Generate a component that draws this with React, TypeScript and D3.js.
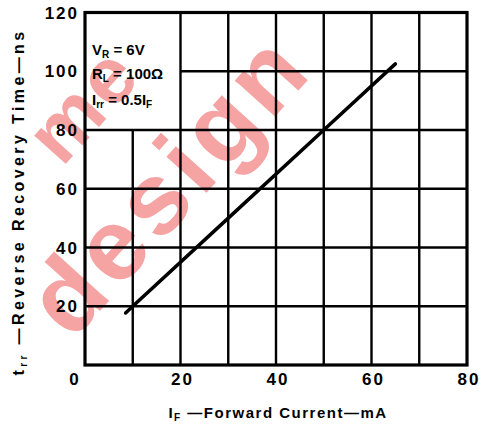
import React from "react";
import * as d3 from "d3";

// forward current (mA) vs reverse recovery time (ns)
const currentMa = [8.5, 10, 30, 50, 65];
const recoveryNs = [17.7, 20, 50, 80, 102.5];

const xTicks = [0, 20, 40, 60, 80];
const yTicks = [20, 40, 60, 80, 100, 120];
const xGrid = [10, 20, 30, 40, 50, 60, 70];
const yGrid = [20, 40, 60, 80, 100];

const width = 481;
const height = 427;
const margin = { top: 12.5, right: 14, bottom: 62, left: 85 };

const font = "'Liberation Sans', Arial, sans-serif";

const App: React.FC = () => {
  const x = d3
    .scaleLinear()
    .domain([0, 80])
    .range([margin.left, width - margin.right]);
  const y = d3
    .scaleLinear()
    .domain([0, 120])
    .range([height - margin.bottom, margin.top]);

  const points = currentMa.map((c, i) => [c, recoveryNs[i]] as [number, number]);
  const line = d3
    .line<[number, number]>()
    .x((d) => x(d[0]))
    .y((d) => y(d[1]));

  return (
    <svg
      width={width}
      height={height}
      style={{ position: "absolute", left: 0, top: 0, background: "#fff" }}
    >
      {/* watermark */}
      <g fill="#f5a3a3" fontFamily={font} fontWeight="bold">
        <text transform="translate(72,342) rotate(-48)" fontSize={102} letterSpacing={6}>
          design
        </text>
        <text transform="translate(62,168) rotate(-48)" fontSize={80} letterSpacing={4}>
          me
        </text>
      </g>

      {/* grid */}
      <g stroke="#000" strokeWidth={2.4}>
        {xGrid.map((v) => (
          <line
            key={"vx" + v}
            x1={x(v)}
            x2={x(v)}
            y1={v === 10 ? y(80) : y(120)}
            y2={y(0)}
          />
        ))}
        {yGrid.map((v) => (
          <line
            key={"hy" + v}
            x1={v === 100 ? x(20) : x(0)}
            x2={x(80)}
            y1={y(v)}
            y2={y(v)}
          />
        ))}
      </g>
      <rect
        x={x(0)}
        y={y(120)}
        width={x(80) - x(0)}
        height={y(0) - y(120)}
        fill="none"
        stroke="#000"
        strokeWidth={3.2}
      />

      {/* curve */}
      <path
        d={line(points) ?? ""}
        fill="none"
        stroke="#000"
        strokeWidth={3.5}
        strokeLinecap="round"
      />

      {/* tick labels */}
      <g fontFamily={font} fontWeight="bold" fontSize={17} letterSpacing={2} fill="#000">
        {yTicks.map((v) => (
          <text key={"yt" + v} x={x(0) - 6} y={y(v) + 6} textAnchor="end">
            {v}
          </text>
        ))}
        {xTicks.map((v) => (
          <text
            key={"xt" + v}
            x={v === 0 ? x(v) - 10 : x(v) + 2}
            y={385}
            textAnchor="middle"
          >
            {v}
          </text>
        ))}
      </g>

      {/* conditions */}
      <g fontFamily={font} fontWeight="bold" fontSize={15} fill="#000">
        <text x={92} y={55}>
          V<tspan fontSize={10} dy={3}>R</tspan>
          <tspan dy={-3}> = 6V</tspan>
        </text>
        <text x={92} y={79}>
          R<tspan fontSize={10} dy={3}>L</tspan>
          <tspan dy={-3}> = 100Ω</tspan>
        </text>
        <text x={92} y={105}>
          I<tspan fontSize={10} dy={3}>rr</tspan>
          <tspan dy={-3}> = 0.5I</tspan>
          <tspan fontSize={10} dy={3}>F</tspan>
        </text>
      </g>

      {/* axis titles */}
      <text
        x={278}
        y={418}
        textAnchor="middle"
        fontFamily={font}
        fontWeight="bold"
        fontSize={15}
        letterSpacing={1.5}
        fill="#000"
      >
        I<tspan fontSize={10} dy={3}>F</tspan>
        <tspan dy={-3}> —Forward Current—mA</tspan>
      </text>
      <text
        transform="translate(24,202) rotate(-90)"
        textAnchor="middle"
        fontFamily={font}
        fontWeight="bold"
        fontSize={16}
        letterSpacing={3.4}
        fill="#000"
      >
        t<tspan fontSize={10} dy={3}>rr</tspan>
        <tspan dy={-3}> —Reverse Recovery Time—ns</tspan>
      </text>
    </svg>
  );
};

export default App;
